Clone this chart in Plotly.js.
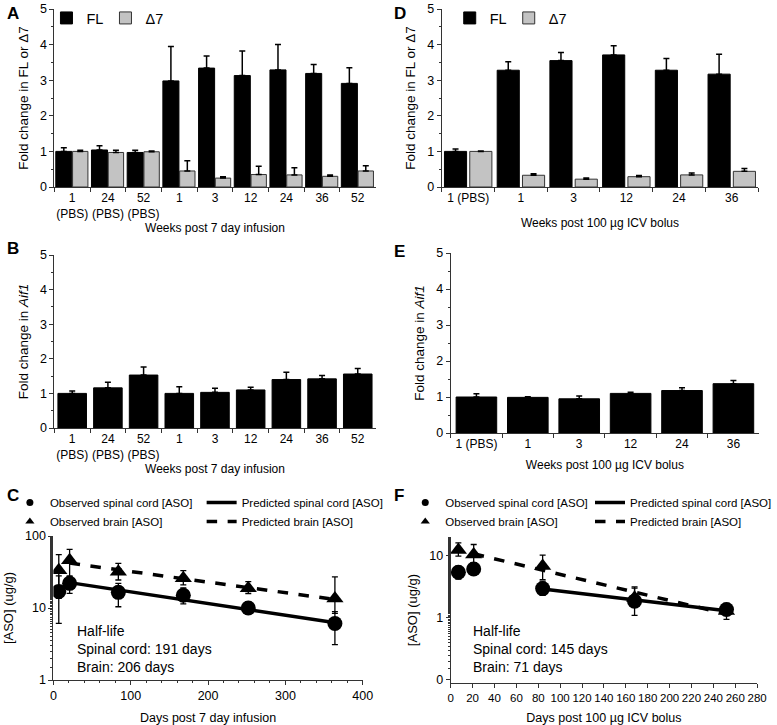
<!DOCTYPE html>
<html>
<head>
<meta charset="utf-8">
<script src="https://cdn.plot.ly/plotly-3.0.1.min.js"></script>
<style>
  html, body { margin: 0; padding: 0; background: #fff; }
  #fig { width: 777px; height: 725px; }
</style>
</head>
<body>
<div id="fig"></div>
<script>
// --- panel A: 7 day infusion, FL vs delta7 ---
const catA = ['1<br>(PBS)', '24<br>(PBS)', '52<br>(PBS)', '1', '3', '12', '24', '36', '52'];
const flA = [1.0, 1.04, 0.97, 2.98, 3.34, 3.13, 3.29, 3.19, 2.91];
const flErrA = [0.1, 0.12, 0.06, 0.97, 0.34, 0.69, 0.71, 0.25, 0.44];
const d7A = [1.0, 0.97, 0.99, 0.45, 0.25, 0.35, 0.34, 0.3, 0.45];
const d7ErrA = [0.03, 0.06, 0.02, 0.29, 0.04, 0.23, 0.2, 0.04, 0.15];

// --- panel D: ICV bolus, FL vs delta7 ---
const catD = ['1 (PBS)', '1', '3', '12', '24', '36'];
const flD = [1.0, 3.28, 3.55, 3.71, 3.28, 3.17];
const flErrD = [0.07, 0.24, 0.23, 0.26, 0.33, 0.56];
const d7D = [1.0, 0.33, 0.22, 0.29, 0.34, 0.44];
const d7ErrD = [0.01, 0.04, 0.03, 0.03, 0.05, 0.08];

// --- panels B / E: Aif1 ---
const aifB = [1.0, 1.16, 1.53, 1.0, 1.03, 1.1, 1.4, 1.42, 1.56];
const aifErrB = [0.07, 0.16, 0.23, 0.19, 0.12, 0.08, 0.21, 0.1, 0.16];
const aifE = [1.0, 0.99, 0.95, 1.1, 1.18, 1.37];
const aifErrE = [0.09, 0.02, 0.08, 0.03, 0.08, 0.09];

// --- panel C: ASO concentration after infusion ---
const daysC = [7, 21, 84, 168, 252, 364];
const scC = [17, 22, 16.5, 15, 10, 6.1];
const scHiC = [28, 28, 22, 19, 12.2, 8.9];
const scLoC = [6.1, 16, 10.4, 11.4, 8.4, 3.1];
const brC = [33.5, 46, 32, 25.8, 18.8, 13.6];
const brHiC = [55, 65, 41.7, 33, 23.2, 27];
const brLoC = [13.6, 27, 24.5, 21, 15.9, 8.4];
const predDaysC = [21, 367];
const predScC = [22.5, 6.2];
const predBrC = [42, 13];

// --- panel F: ASO concentration after bolus ---
const daysF = [7, 21, 84, 168, 252];
const scF = [5.4, 6.1, 2.95, 1.85, 1.36];
const scHiF = [6.8, 7.7, 3.9, 3.15, 1.7];
const scLoF = [4.2, 5.0, 2.3, 1.09, 1.1];
const brF = [12.3, 10.4, 6.8, 2.1, 1.28];
const brHiF = [16, 15.1, 10.2, 3.0, 1.6];
const brLoF = [9.8, 7.7, 4.1, 1.6, 0.94];
const predDaysScF = [84, 252];
const predScF = [2.9, 1.3];
const predDaysBrF = [21, 252];
const predBrF = [10.7, 1.15];

const FONT = 'Liberation Sans, Arial, sans-serif';
const up = (v, e) => ({ type: 'data', symmetric: false, array: e, arrayminus: v.map(() => 0),
                        color: '#000', thickness: 1.5, width: 3 });
const band = (v, hi, lo) => ({ type: 'data', symmetric: false,
                               array: hi.map((h, i) => h - v[i]), arrayminus: lo.map((l, i) => v[i] - l),
                               color: '#000', thickness: 1.3, width: 3 });
const GREY = { color: '#c3c3c3', line: { color: '#333', width: 1 } };
const BLACK = { color: '#000', line: { color: '#000', width: 1 } };

const traces = [
  // A
  { type: 'bar', x: catA, y: flA, error_y: up(flA, flErrA), marker: BLACK, name: 'FL',
    width: 0.45, offset: -0.46, xaxis: 'x', yaxis: 'y', legend: 'legend' },
  { type: 'bar', x: catA, y: d7A, error_y: up(d7A, d7ErrA), marker: GREY, name: 'Δ7',
    width: 0.43, offset: 0.01, xaxis: 'x', yaxis: 'y', legend: 'legend' },
  // D
  { type: 'bar', x: catD, y: flD, error_y: up(flD, flErrD), marker: BLACK, name: 'FL',
    width: 0.42, offset: -0.45, xaxis: 'x2', yaxis: 'y2', legend: 'legend2' },
  { type: 'bar', x: catD, y: d7D, error_y: up(d7D, d7ErrD), marker: GREY, name: 'Δ7',
    width: 0.42, offset: 0.03, xaxis: 'x2', yaxis: 'y2', legend: 'legend2' },
  // B
  { type: 'bar', x: catA, y: aifB, error_y: up(aifB, aifErrB), marker: BLACK, width: 0.8,
    showlegend: false, xaxis: 'x3', yaxis: 'y3' },
  // E
  { type: 'bar', x: catD, y: aifE, error_y: up(aifE, aifErrE), marker: BLACK, width: 0.79,
    showlegend: false, xaxis: 'x4', yaxis: 'y4' },
  // C
  { type: 'scatter', mode: 'lines', x: predDaysC, y: predScC, line: { color: '#000', width: 3.5 },
    name: 'Predicted spinal cord [ASO]', xaxis: 'x5', yaxis: 'y5', legend: 'legend4' },
  { type: 'scatter', mode: 'lines', x: predDaysC, y: predBrC, line: { color: '#000', width: 3.5, dash: 'dash' },
    name: 'Predicted brain [ASO]', xaxis: 'x5', yaxis: 'y5', legend: 'legend4' },
  { type: 'scatter', mode: 'markers', x: daysC, y: scC, error_y: band(scC, scHiC, scLoC),
    marker: { symbol: 'circle', size: 15, color: '#000' }, showlegend: false, xaxis: 'x5', yaxis: 'y5' },
  { type: 'scatter', mode: 'markers', x: daysC, y: brC, error_y: band(brC, brHiC, brLoC),
    marker: { symbol: 'triangle-up', size: 15, color: '#000' }, showlegend: false, xaxis: 'x5', yaxis: 'y5' },
  { type: 'scatter', mode: 'markers', x: [null], y: [null], marker: { symbol: 'circle', size: 7, color: '#000' },
    name: 'Observed spinal cord [ASO]', xaxis: 'x5', yaxis: 'y5', legend: 'legend3' },
  { type: 'scatter', mode: 'markers', x: [null], y: [null], marker: { symbol: 'triangle-up', size: 8, color: '#000' },
    name: 'Observed brain [ASO]', xaxis: 'x5', yaxis: 'y5', legend: 'legend3' },
  // F
  { type: 'scatter', mode: 'lines', x: predDaysScF, y: predScF, line: { color: '#000', width: 3.5 },
    name: 'Predicted spinal cord [ASO]', xaxis: 'x6', yaxis: 'y6', legend: 'legend6' },
  { type: 'scatter', mode: 'lines', x: predDaysBrF, y: predBrF, line: { color: '#000', width: 3.5, dash: 'dash' },
    name: 'Predicted brain [ASO]', xaxis: 'x6', yaxis: 'y6', legend: 'legend6' },
  { type: 'scatter', mode: 'markers', x: daysF, y: scF, error_y: band(scF, scHiF, scLoF),
    marker: { symbol: 'circle', size: 15, color: '#000' }, showlegend: false, xaxis: 'x6', yaxis: 'y6' },
  { type: 'scatter', mode: 'markers', x: daysF, y: brF, error_y: band(brF, brHiF, brLoF),
    marker: { symbol: 'triangle-up', size: 15, color: '#000' }, showlegend: false, xaxis: 'x6', yaxis: 'y6' },
  { type: 'scatter', mode: 'markers', x: [null], y: [null], marker: { symbol: 'circle', size: 7, color: '#000' },
    name: 'Observed spinal cord [ASO]', xaxis: 'x6', yaxis: 'y6', legend: 'legend5' },
  { type: 'scatter', mode: 'markers', x: [null], y: [null], marker: { symbol: 'triangle-up', size: 8, color: '#000' },
    name: 'Observed brain [ASO]', xaxis: 'x6', yaxis: 'y6', legend: 'legend5' }
];

const W = 777, H = 725;
const dx = (a, b) => [a / W, b / W];
const dy = (top, bottom) => [1 - bottom / H, 1 - top / H];

const axBase = {
  showline: true, linecolor: '#333', linewidth: 1, showgrid: false, zeroline: false, tickangle: 0,
  ticks: 'outside', ticklen: 4, tickcolor: '#333', tickfont: { size: 12.5, color: '#000' }
};
const catX = (dom, anchor, title, standoff) => Object.assign({}, axBase, {
  domain: dom, anchor: anchor, type: 'category', tickson: 'boundaries',
  tickfont: { size: 12, color: '#000' },
  title: { text: title, font: { size: 12 }, standoff: standoff }
});
const barY = (dom, anchor, title) => Object.assign({}, axBase, {
  domain: dom, anchor: anchor, range: [0, 5], dtick: 1,
  minor: { ticks: 'outside', ticklen: 2, dtick: 0.5, tickcolor: '#333' },
  title: { text: title, font: { size: 13.5 }, standoff: 8 }
});

const legBase = { bgcolor: 'rgba(0,0,0,0)', font: { size: 11.5, color: '#000' }, xanchor: 'left', yanchor: 'top',
                  tracegroupgap: 0, itemclick: false };

const layout = {
  width: W, height: H,
  margin: { l: 0, r: 0, t: 0, b: 0 },
  paper_bgcolor: '#fff', plot_bgcolor: '#fff',
  font: { family: FONT, color: '#000', size: 12 },
  barmode: 'overlay',
  xaxis: catX(dx(55, 380), 'y', 'Weeks post 7 day infusion', 0),
  yaxis: barY(dy(9, 187), 'x', 'Fold change in FL or Δ7'),
  xaxis2: catX(dx(447, 767), 'y2', 'Weeks post 100 µg ICV bolus', 14),
  yaxis2: barY(dy(9, 187), 'x2', 'Fold change in FL or Δ7'),
  xaxis3: catX(dx(55, 380), 'y3', 'Weeks post 7 day infusion', 1),
  yaxis3: barY(dy(255, 428), 'x3', 'Fold change in <i>Aif1</i>'),
  xaxis4: catX(dx(456, 768), 'y4', 'Weeks post 100 µg ICV bolus', 10),
  yaxis4: barY(dy(253, 433), 'x4', 'Fold change in <i>Aif1</i>'),
  xaxis5: Object.assign({}, axBase, {
    domain: dx(54, 367), anchor: 'y5', range: [0, 400], dtick: 100,
    minor: { ticks: 'outside', ticklen: 2, dtick: 20, tickcolor: '#333' },
    title: { text: 'Days post 7 day infusion', font: { size: 12.5 }, standoff: 14 }
  }),
  yaxis5: Object.assign({}, axBase, {
    domain: dy(536, 680), anchor: 'x5', type: 'log', range: [0, 2], tickvals: [1, 10, 100],
    minor: { ticks: 'outside', ticklen: 2, tickcolor: '#333' },
    title: { text: '[ASO] (ug/g)', font: { size: 13 }, standoff: 8 }
  }),
  xaxis6: Object.assign({}, axBase, {
    domain: dx(456, 766), anchor: 'y6', range: [0, 280], dtick: 20,
    tickfont: { size: 11.5, color: '#000' },
    title: { text: 'Days post 100 µg ICV bolus', font: { size: 12.5 }, standoff: 20 }
  }),
  yaxis6: Object.assign({}, axBase, {
    domain: dy(537, 683), anchor: 'x6', type: 'log', range: [-1.05, 1.3],
    tickvals: [0.1, 1, 10], ticktext: ['0', '1', '10'],
    minor: { ticks: 'outside', ticklen: 2, tickcolor: '#333' },
    title: { text: '[ASO] (ug/g)', font: { size: 13 }, standoff: 8 }
  }),
  legend: Object.assign({}, legBase, { x: 47 / W, y: 1 - 2 / H, orientation: 'h', entrywidth: 14,
                                       font: { size: 14.5 } }),
  legend2: Object.assign({}, legBase, { x: 455 / W, y: 1 - 2 / H, orientation: 'h', entrywidth: 14,
                                        font: { size: 14.5 } }),
  legend3: Object.assign({}, legBase, { x: 10 / W, y: 1 - 488 / H }),
  legend4: Object.assign({}, legBase, { x: 204 / W, y: 1 - 488 / H }),
  legend5: Object.assign({}, legBase, { x: 410 / W, y: 1 - 488 / H }),
  legend6: Object.assign({}, legBase, { x: 597 / W, y: 1 - 488 / H }),
  annotations: [
    ['A', 5, 2], ['D', 397, 2], ['B', 5, 237], ['E', 397, 240], ['C', 5, 484], ['F', 397, 484]
  ].map(([t, x, y]) => ({
    text: '<b>' + t + '</b>', xref: 'paper', yref: 'paper', x: x / W, y: 1 - y / H,
    xanchor: 'left', yanchor: 'top', showarrow: false, font: { size: 17 }
  })).concat([
    { text: 'Half-life<br>Spinal cord: 191 days<br>Brain: 206 days', xref: 'paper', yref: 'paper',
      x: 76 / W, y: 1 - 621 / H, xanchor: 'left', yanchor: 'top', align: 'left', showarrow: false,
      font: { size: 14 } },
    { text: 'Half-life<br>Spinal cord: 145 days<br>Brain: 71 days', xref: 'paper', yref: 'paper',
      x: 477 / W, y: 1 - 621 / H, xanchor: 'left', yanchor: 'top', align: 'left', showarrow: false,
      font: { size: 14 } }
  ])
};

Plotly.newPlot('fig', traces, layout, { displayModeBar: false, staticPlot: true });
</script>
</body>
</html>
